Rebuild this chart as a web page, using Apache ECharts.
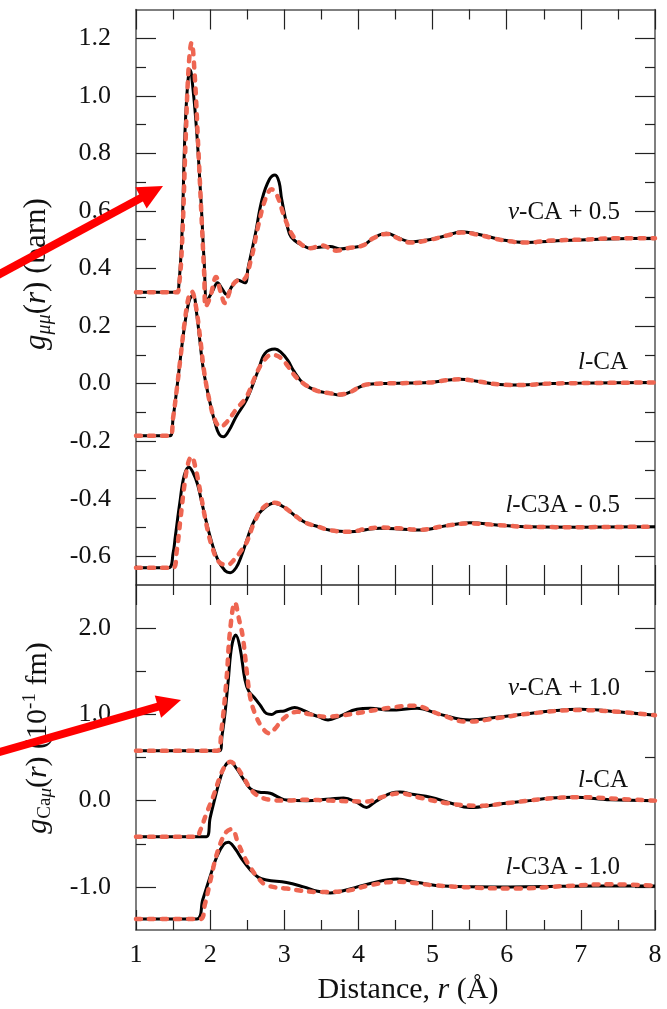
<!DOCTYPE html>
<html><head><meta charset="utf-8">
<script src="https://cdn.jsdelivr.net/npm/echarts@6/dist/echarts.min.js"></script>
<style>html,body{margin:0;padding:0;background:#fff}#c{width:667px;height:1009px}</style>
</head><body><div id="c"></div>
<script>
// ---------- tick values ----------
const xTickLabels = [1, 2, 3, 4, 5, 6, 7, 8];
const topMajor = [-0.6, -0.4, -0.2, 0.0, 0.2, 0.4, 0.6, 0.8, 1.0, 1.2];
const topMinor = [-0.5, -0.3, -0.1, 0.1, 0.3, 0.5, 0.7, 0.9, 1.1];
const botMajor = [-1.0, 0.0, 1.0, 2.0];
const botMinor = [-0.5, 0.5, 1.5];

// ---------- top panel: g_mumu(r) ----------
// v-CA + 0.5
const vcaTopBlackR = [1.0,1.55,1.58,1.62,1.66,1.70,1.73,1.77,1.82,1.88,1.92,1.96,2.03,2.10,2.16,2.22,2.30,2.37,2.47,2.51,2.61,2.70,2.80,2.875,2.93,2.965,3.07,3.15,3.25,3.35,3.50,3.62,3.75,3.90,4.06,4.20,4.38,4.55,4.70,4.97,5.20,5.39,5.60,5.95,6.27,6.60,6.99,7.50,8.0];
const vcaTopBlackY = [0.317,0.317,0.35,0.52,0.87,1.05,1.09,1.02,0.87,0.62,0.42,0.29,0.32,0.35,0.33,0.31,0.34,0.36,0.35,0.40,0.52,0.64,0.71,0.725,0.70,0.64,0.52,0.495,0.48,0.47,0.475,0.476,0.468,0.472,0.48,0.505,0.522,0.505,0.493,0.501,0.515,0.528,0.52,0.499,0.49,0.495,0.499,0.503,0.505];
const vcaTopRedR = [1.0,1.55,1.58,1.62,1.67,1.71,1.75,1.79,1.84,1.88,1.92,1.94,2.00,2.08,2.14,2.20,2.28,2.36,2.45,2.55,2.65,2.75,2.83,2.90,3.00,3.10,3.20,3.35,3.50,3.70,3.85,4.06,4.20,4.38,4.55,4.70,4.97,5.20,5.39,5.60,5.95,6.27,6.60,6.99,7.50,8.0];
const vcaTopRedY = [0.317,0.317,0.34,0.48,0.85,1.10,1.185,1.08,0.82,0.60,0.38,0.267,0.30,0.37,0.32,0.28,0.33,0.357,0.36,0.43,0.55,0.645,0.675,0.655,0.58,0.52,0.49,0.47,0.48,0.462,0.47,0.48,0.505,0.52,0.503,0.49,0.50,0.515,0.525,0.518,0.498,0.49,0.497,0.50,0.505,0.505];
// l-CA
const lcaTopBlackR = [1.0,1.46,1.50,1.55,1.60,1.66,1.72,1.77,1.82,1.855,1.91,2.00,2.07,2.12,2.18,2.25,2.35,2.49,2.65,2.74,2.875,2.95,3.05,3.12,3.26,3.44,3.62,3.75,3.90,4.00,4.11,4.30,4.70,4.97,5.20,5.37,5.60,5.90,6.18,6.60,7.20,8.0];
const lcaTopBlackY = [-0.181,-0.181,-0.12,-0.02,0.09,0.21,0.29,0.308,0.24,0.163,0.047,-0.069,-0.14,-0.175,-0.185,-0.165,-0.115,-0.057,0.047,0.105,0.12,0.11,0.08,0.047,0.0,-0.025,-0.034,-0.04,-0.028,-0.014,-0.003,0.0,0.002,0.004,0.012,0.015,0.008,-0.003,-0.005,0.0,0.002,0.004];
const lcaTopRedR = [1.0,1.46,1.50,1.55,1.60,1.66,1.71,1.75,1.80,1.86,1.92,2.00,2.07,2.14,2.22,2.35,2.49,2.60,2.70,2.83,2.95,3.05,3.15,3.26,3.44,3.62,3.75,3.90,4.00,4.11,4.30,4.70,4.97,5.20,5.37,5.60,5.90,6.18,6.60,7.20,8.0];
const lcaTopRedY = [-0.181,-0.181,-0.12,-0.02,0.09,0.22,0.30,0.32,0.28,0.17,0.04,-0.07,-0.13,-0.15,-0.135,-0.09,-0.046,0.02,0.07,0.10,0.09,0.06,0.025,0.0,-0.025,-0.034,-0.038,-0.028,-0.014,-0.003,0.0,0.002,0.004,0.012,0.015,0.008,-0.003,-0.005,0.0,0.002,0.004];
// l-C3A - 0.5
const c3aTopBlackR = [1.0,1.44,1.50,1.53,1.59,1.65,1.715,1.77,1.83,1.89,2.00,2.10,2.20,2.27,2.35,2.42,2.51,2.60,2.70,2.86,3.00,3.15,3.30,3.44,3.62,3.89,4.10,4.29,4.55,4.83,5.20,5.50,5.90,6.31,7.00,8.0];
const c3aTopBlackY = [-0.64,-0.64,-0.59,-0.532,-0.416,-0.32,-0.291,-0.31,-0.35,-0.416,-0.532,-0.61,-0.65,-0.657,-0.64,-0.60,-0.532,-0.474,-0.44,-0.416,-0.43,-0.46,-0.485,-0.496,-0.51,-0.515,-0.508,-0.503,-0.505,-0.509,-0.493,-0.484,-0.492,-0.498,-0.499,-0.498];
const c3aTopRedR = [1.0,1.50,1.55,1.60,1.66,1.71,1.75,1.80,1.87,1.95,2.03,2.12,2.23,2.33,2.42,2.49,2.60,2.72,2.87,3.00,3.15,3.30,3.44,3.62,3.89,4.10,4.29,4.55,4.83,5.20,5.50,5.90,6.31,7.00,8.0];
const c3aTopRedY = [-0.64,-0.64,-0.58,-0.47,-0.34,-0.27,-0.254,-0.29,-0.38,-0.49,-0.57,-0.62,-0.63,-0.61,-0.58,-0.553,-0.48,-0.43,-0.414,-0.43,-0.46,-0.485,-0.496,-0.51,-0.515,-0.505,-0.50,-0.503,-0.508,-0.493,-0.486,-0.492,-0.498,-0.499,-0.497];

// ---------- bottom panel: g_Camu(r) ----------
// v-CA + 1.0
const vcaBotBlackR = [1.0,2.13,2.16,2.20,2.245,2.29,2.345,2.40,2.47,2.52,2.60,2.68,2.76,2.83,2.90,3.00,3.14,3.25,3.35,3.47,3.59,3.75,3.98,4.16,4.43,4.79,5.10,5.50,5.90,6.31,6.60,6.99,7.50,8.0];
const vcaBotBlackY = [0.579,0.579,0.75,1.01,1.40,1.785,1.92,1.785,1.40,1.27,1.19,1.10,1.01,1.00,1.03,1.04,1.08,1.05,1.01,0.97,0.935,0.98,1.06,1.07,1.05,1.07,1.00,0.935,0.97,1.01,1.04,1.06,1.03,0.99];
const vcaBotRedR = [1.0,2.10,2.15,2.22,2.27,2.335,2.39,2.44,2.50,2.54,2.60,2.70,2.80,2.88,2.97,3.07,3.17,3.35,3.57,3.80,4.16,4.45,4.74,5.10,5.46,5.90,6.31,6.99,7.50,8.0];
const vcaBotRedY = [0.579,0.579,0.80,1.40,1.98,2.295,2.10,1.90,1.45,1.20,1.02,0.85,0.78,0.84,0.935,1.00,1.03,1.00,0.973,0.99,1.04,1.08,1.10,1.00,0.915,0.96,1.01,1.05,1.03,0.99];
// l-CA
const lcaBotBlackR = [1.0,1.95,2.00,2.07,2.13,2.20,2.27,2.35,2.45,2.54,2.65,2.81,2.92,3.03,3.30,3.62,3.80,3.98,4.11,4.20,4.29,4.45,4.56,4.75,4.97,5.25,5.50,5.90,6.31,6.60,6.90,7.40,8.0];
const lcaBotBlackY = [-0.418,-0.418,-0.20,0.045,0.24,0.40,0.45,0.38,0.25,0.14,0.10,0.085,0.04,0.007,0.0,0.02,0.03,-0.02,-0.08,-0.03,0.02,0.09,0.10,0.07,0.04,-0.03,-0.08,-0.04,0.0,0.03,0.04,0.01,0.0];
const lcaBotRedR = [1.0,1.82,1.86,1.95,2.04,2.13,2.20,2.27,2.35,2.45,2.54,2.62,2.72,2.85,3.03,3.30,3.62,4.11,4.35,4.56,4.80,5.20,5.60,6.00,6.50,6.99,7.50,8.0];
const lcaBotRedY = [-0.418,-0.418,-0.36,-0.15,0.045,0.27,0.40,0.45,0.40,0.27,0.14,0.07,0.027,0.005,0.0,0.01,0.0,-0.01,0.05,0.085,0.04,-0.03,-0.06,-0.03,0.02,0.04,0.02,0.0];
// l-C3A - 1.0
const c3aBotBlackR = [1.0,1.82,1.90,2.00,2.09,2.18,2.245,2.33,2.43,2.54,2.65,2.76,3.03,3.26,3.45,3.62,3.90,4.16,4.52,4.80,5.15,5.87,6.50,7.20,8.0];
const c3aBotBlackY = [-1.373,-1.373,-1.15,-0.88,-0.65,-0.51,-0.483,-0.55,-0.68,-0.80,-0.89,-0.92,-0.95,-1.00,-1.05,-1.07,-1.02,-0.96,-0.91,-0.95,-0.99,-1.00,-0.995,-0.99,-0.99];
const c3aBotRedR = [1.0,1.86,1.93,2.00,2.08,2.16,2.22,2.29,2.38,2.46,2.54,2.65,2.76,3.03,3.48,3.80,4.16,4.52,5.00,5.60,6.13,6.80,7.39,8.0];
const c3aBotRedY = [-1.373,-1.373,-1.20,-0.94,-0.65,-0.45,-0.36,-0.33,-0.50,-0.65,-0.77,-0.90,-0.98,-1.02,-1.06,-1.05,-0.98,-0.94,-0.98,-1.01,-1.02,-0.99,-0.97,-0.985];

// ---------- curve labels ----------
const curveLabels = [
  {text: '{i|v}-CA + 0.5', x: 620, y: 212},
  {text: '{i|l}-CA', x: 628, y: 362},
  {text: '{i|l}-C3A - 0.5', x: 620, y: 505},
  {text: '{i|v}-CA + 1.0', x: 620, y: 688},
  {text: '{i|l}-CA', x: 628, y: 780},
  {text: '{i|l}-C3A - 1.0', x: 620, y: 867}
];

const FONT = 'Liberation Serif';
const TXT = '#111';
const AX = '#555';
const RED = '#EE6652';

function zip(a, b) { return a.map((v, i) => [v, b[i]]); }

function xAxis(gi, pos, showLabel, minorLen) {
  return {
    type: 'value', gridIndex: gi, position: pos, min: 1, max: 8, interval: 1,
    axisLine: {show: true, onZero: false, lineStyle: {color: AX, width: 1.5}},
    axisTick: {show: true, inside: true, length: 20, lineStyle: {color: '#222', width: 1.2}},
    minorTick: {show: true, splitNumber: 2, length: minorLen, lineStyle: {color: '#222', width: 1.2}},
    splitLine: {show: false}, minorSplitLine: {show: false},
    axisLabel: {show: showLabel, margin: 12, fontFamily: FONT, fontSize: 26, color: TXT,
      formatter: v => String(Math.round(v))}
  };
}
function yAxis(gi, pos, min, max, vals, len, showLabel, showLine) {
  return {
    type: 'value', gridIndex: gi, position: pos, min: min, max: max,
    axisLine: {show: showLine, onZero: false, lineStyle: {color: AX, width: 1.5}},
    axisTick: {show: true, inside: true, length: len, customValues: vals, lineStyle: {color: '#222', width: 1.2}},
    splitLine: {show: false},
    axisLabel: {show: showLabel, customValues: vals, margin: 25, fontFamily: FONT, fontSize: 26, color: TXT,
      formatter: v => (Math.abs(v) < 1e-9 ? 0 : v).toFixed(1)}
  };
}

function lineSeries(xi, yi, data, isRed) {
  return {
    type: 'line', xAxisIndex: xi, yAxisIndex: yi, data: data,
    showSymbol: false, symbol: 'none', smooth: 0.4,
    animation: false, silent: true,
    lineStyle: isRed ? {color: RED, width: 4.5, type: [5, 8], cap: 'round', join: 'round'}
                     : {color: '#000', width: 3, join: 'round'}
  };
}

function arrow(x0, y0, x1, y1, headLen, headHalf, w) {
  const dx = x1 - x0, dy = y1 - y0, L = Math.hypot(dx, dy);
  const ux = dx / L, uy = dy / L, px = -uy, py = ux;
  const bx = x1 - ux * headLen, by = y1 - uy * headLen;
  return [
    {type: 'line', shape: {x1: x0, y1: y0, x2: bx + ux * 2, y2: by + uy * 2},
     style: {stroke: '#FF0000', lineWidth: w}, z: 100},
    {type: 'polygon', shape: {points: [[x1, y1], [bx + px * headHalf, by + py * headHalf], [bx - px * headHalf, by - py * headHalf]]},
     style: {fill: '#FF0000'}, z: 100}
  ];
}

const baseRich = {
  i: {fontFamily: FONT, fontSize: 25, fontStyle: 'italic', fill: TXT},
  n: {fontFamily: FONT, fontSize: 25, fill: TXT}
};

const graphics = [];
curveLabels.forEach(c => {
  graphics.push({type: 'text', x: c.x, y: c.y, z: 50,
    style: {text: c.text.replace(/(\}|^)([^{}]+)(?=\{|$)/g, (m, a, b) => a + '{n|' + b + '}'),
      rich: baseRich, align: 'right', verticalAlign: 'middle', fill: TXT, font: '25px ' + FONT}});
});
// y axis titles
graphics.push({type: 'text', x: 37, y: 274, rotation: Math.PI / 2, z: 50,
  style: {text: '{g|g}{s|μμ}{n|(}{i|r}{n|) (barn)}', align: 'center', verticalAlign: 'middle',
    rich: {
      g: {fontFamily: FONT, fontSize: 31, fontStyle: 'italic', fill: TXT, lineHeight: 35},
      s: {fontFamily: FONT, fontSize: 20, fontStyle: 'italic', fill: TXT, lineHeight: 16, verticalAlign: 'bottom'},
      n: {fontFamily: FONT, fontSize: 31, fill: TXT, lineHeight: 35},
      i: {fontFamily: FONT, fontSize: 31, fontStyle: 'italic', fill: TXT, lineHeight: 35}
    }}});
graphics.push({type: 'text', x: 38, y: 738, rotation: Math.PI / 2, z: 50,
  style: {text: '{g|g}{s|Ca}{si|μ}{n|(}{i|r}{n|) (10}{p|-1}{n| fm)}', align: 'center', verticalAlign: 'middle',
    rich: {
      g: {fontFamily: FONT, fontSize: 30, fontStyle: 'italic', fill: TXT, lineHeight: 34},
      s: {fontFamily: FONT, fontSize: 19, fill: TXT, lineHeight: 16, verticalAlign: 'bottom'},
      si: {fontFamily: FONT, fontSize: 19, fontStyle: 'italic', fill: TXT, lineHeight: 16, verticalAlign: 'bottom'},
      p: {fontFamily: FONT, fontSize: 19, fill: TXT, lineHeight: 24, verticalAlign: 'top'},
      n: {fontFamily: FONT, fontSize: 30, fill: TXT, lineHeight: 34},
      i: {fontFamily: FONT, fontSize: 30, fontStyle: 'italic', fill: TXT, lineHeight: 34}
    }}});
// x axis title
graphics.push({type: 'text', x: 408, y: 990, z: 50,
  style: {text: '{n|Distance, }{i|r}{n| (Å)}', align: 'center', verticalAlign: 'middle',
    rich: {
      n: {fontFamily: FONT, fontSize: 30, fill: TXT},
      i: {fontFamily: FONT, fontSize: 30, fontStyle: 'italic', fill: TXT}
    }}});
// red arrows
arrow(-4, 276, 163, 186, 25, 12, 8).forEach(g => graphics.push(g));
arrow(-4, 753, 181, 700, 24, 11.5, 8).forEach(g => graphics.push(g));

const option = {
  backgroundColor: '#fff',
  animation: false,
  grid: [
    {left: 136, top: 9.5, right: 12, height: 575.5},
    {left: 136, top: 585, right: 12, bottom: 79}
  ],
  xAxis: [
    xAxis(0, 'bottom', false, 20),
    xAxis(0, 'top', false, 10),
    xAxis(1, 'bottom', true, 10),
    xAxis(1, 'top', false, 10)
  ],
  yAxis: [
    yAxis(0, 'left', -0.7, 1.3, topMajor, 20, true, true),
    yAxis(0, 'left', -0.7, 1.3, topMinor, 10, false, false),
    yAxis(0, 'right', -0.7, 1.3, topMajor, 20, false, true),
    yAxis(0, 'right', -0.7, 1.3, topMinor, 10, false, false),
    yAxis(1, 'left', -1.5, 2.5, botMajor, 20, true, true),
    yAxis(1, 'left', -1.5, 2.5, botMinor, 10, false, false),
    yAxis(1, 'right', -1.5, 2.5, botMajor, 20, false, true),
    yAxis(1, 'right', -1.5, 2.5, botMinor, 10, false, false)
  ],
  series: [
    lineSeries(0, 0, zip(vcaTopBlackR, vcaTopBlackY), false),
    lineSeries(0, 0, zip(vcaTopRedR, vcaTopRedY), true),
    lineSeries(0, 0, zip(lcaTopBlackR, lcaTopBlackY), false),
    lineSeries(0, 0, zip(lcaTopRedR, lcaTopRedY), true),
    lineSeries(0, 0, zip(c3aTopBlackR, c3aTopBlackY), false),
    lineSeries(0, 0, zip(c3aTopRedR, c3aTopRedY), true),
    lineSeries(2, 4, zip(vcaBotBlackR, vcaBotBlackY), false),
    lineSeries(2, 4, zip(vcaBotRedR, vcaBotRedY), true),
    lineSeries(2, 4, zip(lcaBotBlackR, lcaBotBlackY), false),
    lineSeries(2, 4, zip(lcaBotRedR, lcaBotRedY), true),
    lineSeries(2, 4, zip(c3aBotBlackR, c3aBotBlackY), false),
    lineSeries(2, 4, zip(c3aBotRedR, c3aBotRedY), true)
  ],
  graphic: graphics
};
const chart = echarts.init(document.getElementById('c'));
chart.setOption(option);
</script>
</body></html>
